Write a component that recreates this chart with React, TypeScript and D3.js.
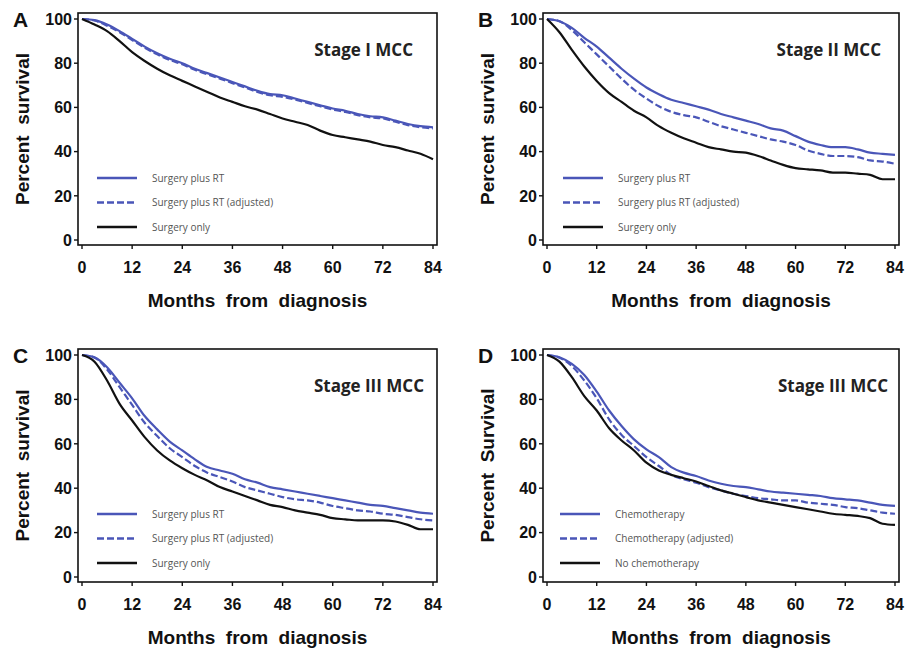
import React from "react";
import * as d3 from "d3";

const months = [0, 3, 6, 9, 12, 15, 18, 21, 24, 27, 30, 33, 36, 39, 42, 45, 48, 51, 54, 57, 60, 63, 66, 69, 72, 75, 78, 81, 84];
const xTicks = [0, 12, 24, 36, 48, 60, 72, 84];
const yTicks = [0, 20, 40, 60, 80, 100];

// Stage I
const stage1Rt = [100, 99.5, 97.5, 94.5, 91, 87.5, 84.5, 82, 80, 77.5, 75.5, 73.5, 71.5, 69.5, 67.5, 66, 65.5, 64, 62.5, 61, 59.5, 58.5, 57, 56, 55.5, 54, 52.5, 51.5, 51];
const stage1RtAdj = [100, 99.3, 97, 94, 90.5, 87, 84, 81.5, 79.5, 77, 75, 73, 71, 69, 67, 65.5, 64.8, 63.5, 62, 60.5, 59, 58, 56.5, 55.5, 55, 53.5, 52, 51, 50.5];
const stage1Surg = [100, 97.5, 94.5, 90, 85, 81, 77.5, 74.5, 72, 69.5, 67, 64.5, 62.5, 60.5, 59, 57, 55, 53.5, 52, 49.5, 47.5, 46.5, 45.5, 44.5, 43, 42, 40.5, 39, 36.5];

// Stage II
const stage2Rt = [100, 99, 96, 91.5, 87.5, 82.5, 77.5, 73, 69, 66, 63.5, 62, 60.5, 59, 57, 55.5, 54, 52.5, 50.5, 49.5, 47, 44.5, 43, 42, 42, 41, 39.5, 39, 38.5];
const stage2RtAdj = [100, 99, 95, 89.5, 84, 78.5, 73, 68, 64, 60.5, 58, 56.5, 55.5, 53.5, 51.5, 50, 48.5, 47, 45.5, 44.5, 43, 40.5, 39, 38, 38, 37.5, 36, 35.5, 34.5];
const stage2Surg = [100, 94, 86, 78.5, 72, 66.5, 62.5, 58.5, 55.5, 51.5, 48.5, 46, 44, 42, 41, 40, 39.5, 38, 36, 34, 32.5, 32, 31.5, 30.5, 30.5, 30, 29.5, 27.5, 27.5];

// Stage III, radiotherapy
const stage3Rt = [100, 99, 94.5, 87.5, 80.5, 72.5, 66.5, 61, 57, 53, 49.5, 48, 46.5, 44, 42.5, 40.5, 39.5, 38.5, 37.5, 36.5, 35.5, 34.5, 33.5, 32.5, 32, 31, 30, 29, 28.5];
const stage3RtAdj = [100, 98.8, 93.5, 85.5, 77.5, 69.5, 63.5, 58, 54, 50, 47, 45, 43, 40.5, 39, 37.5, 36, 35, 34.5, 33.5, 32, 31, 30, 29.5, 28.5, 28, 27, 26, 25.5];
const stage3Surg = [100, 97, 88.5, 78, 70.5, 63, 57, 52.5, 49, 46, 43.5, 40.5, 38.5, 36.5, 34.5, 32.5, 31.5, 30, 29, 28, 26.5, 26, 25.5, 25.5, 25.5, 25, 23.5, 21.5, 21.5];

// Stage III, chemotherapy
const stage3Chemo = [100, 99, 96, 91, 83.5, 75, 68, 62, 57.5, 54, 49.5, 47, 45.5, 43.5, 42, 41, 40.5, 39.5, 38.5, 38, 37.5, 37, 36.5, 35.5, 35, 34.5, 33.5, 32.5, 32];
const stage3ChemoAdj = [100, 98.8, 95, 88.5, 80.5, 71, 64, 59, 54, 50, 46, 44, 42.5, 40.5, 39, 37.5, 36.5, 35.5, 35, 34.5, 34.5, 33.5, 33, 32.5, 31.5, 31, 30, 29, 28.5];
const stage3NoChemo = [100, 97, 90, 81.5, 75, 67, 61.5, 57, 51.5, 48, 46, 44.5, 43, 41, 39, 37.5, 36, 34.5, 33.5, 32.5, 31.5, 30.5, 29.5, 28.5, 28, 27.5, 26.5, 24, 23.5];

const rtLabels = ["Surgery plus RT", "Surgery plus RT (adjusted)", "Surgery only"];
const chemoLabels = ["Chemotherapy", "Chemotherapy (adjusted)", "No chemotherapy"];

const BLUE = "#4a56b8";
const seriesStyles = [
  { color: BLUE, dash: null },
  { color: BLUE, dash: "7,3" },
  { color: "#111", dash: null },
];

const panels = [
  { letter: "A", title: "Stage I MCC", titleX: 413, yTitle: "Percent  survival", fx0: 78, fx1: 437, fy0: 13, fy1: 245, lx: 19, labels: rtLabels, series: [stage1Rt, stage1RtAdj, stage1Surg] },
  { letter: "B", title: "Stage II MCC", titleX: 881, yTitle: "Percent  survival", fx0: 543, fx1: 899, fy0: 13, fy1: 245, lx: 20, labels: rtLabels, series: [stage2Rt, stage2RtAdj, stage2Surg] },
  { letter: "C", title: "Stage III MCC", titleX: 424, yTitle: "Percent  survival", fx0: 78, fx1: 437, fy0: 349, fy1: 582, lx: 19, labels: rtLabels, series: [stage3Rt, stage3RtAdj, stage3Surg] },
  { letter: "D", title: "Stage III MCC", titleX: 888, yTitle: "Percent  Survival", fx0: 543, fx1: 899, fy0: 349, fy1: 582, lx: 17, labels: chemoLabels, series: [stage3Chemo, stage3ChemoAdj, stage3NoChemo] },
];

const AXIS_FONT = "'Liberation Sans', Arial, sans-serif";
const NOTE_FONT = "'Open Sans', 'Noto Sans', sans-serif";

function Panel({ p }) {
  const x = d3.scaleLinear().domain([0, 84]).range([p.fx0 + 4, p.fx1 - 4]);
  const y = d3.scaleLinear().domain([0, 100]).range([p.fy1 - 5, p.fy0 + 6]);
  const line = d3
    .line()
    .x((d, i) => x(months[i]))
    .y((d) => y(d))
    .curve(d3.curveMonotoneX);
  const midX = (p.fx0 + p.fx1) / 2;
  const midY = (p.fy0 + p.fy1) / 2;

  return (
    <g>
      {/* series */}
      {p.series.map((s, i) => (
        <path
          key={i}
          d={line(s)}
          fill="none"
          stroke={seriesStyles[i].color}
          strokeWidth={2.2}
          strokeDasharray={seriesStyles[i].dash || undefined}
        />
      ))}

      {/* frame */}
      <rect x={p.fx0} y={p.fy0} width={p.fx1 - p.fx0} height={p.fy1 - p.fy0} fill="none" stroke="#111" strokeWidth={1.6} />

      {/* y axis */}
      {yTicks.map((t) => (
        <g key={"y" + t}>
          <line x1={p.fx0 - 4} x2={p.fx0} y1={y(t)} y2={y(t)} stroke="#111" strokeWidth={1.4} />
          <text x={p.fx0 - 6} y={y(t)} dy="0.36em" textAnchor="end" fontFamily={AXIS_FONT} fontWeight="bold" fontSize={16} fill="#111">
            {t}
          </text>
        </g>
      ))}

      {/* x axis */}
      {xTicks.map((t) => (
        <g key={"x" + t}>
          <line x1={x(t)} x2={x(t)} y1={p.fy1} y2={p.fy1 + 4} stroke="#111" strokeWidth={1.4} />
          <text x={x(t)} y={p.fy1 + 28} textAnchor="middle" fontFamily={AXIS_FONT} fontWeight="bold" fontSize={16} fill="#111">
            {t}
          </text>
        </g>
      ))}

      <text x={midX} y={p.fy1 + 62} textAnchor="middle" fontFamily={AXIS_FONT} fontWeight="bold" fontSize={19} fill="#111" style={{ whiteSpace: "pre" }}>
        {"Months  from  diagnosis"}
      </text>
      <text
        transform={`translate(${p.fx0 - 49},${midY}) rotate(-90)`}
        textAnchor="middle"
        fontFamily={AXIS_FONT}
        fontWeight="bold"
        fontSize={19}
        fill="#111"
        style={{ whiteSpace: "pre" }}
      >
        {p.yTitle}
      </text>

      <text x={p.fx0 - 65} y={p.fy0 + 14} fontFamily={AXIS_FONT} fontWeight="bold" fontSize={21} fill="#111">
        {p.letter}
      </text>

      <text x={p.titleX} y={p.fy0 + 43} textAnchor="end" fontFamily={NOTE_FONT} fontWeight="bold" fontSize={17} fill="#222">
        {p.title}
      </text>

      {/* legend */}
      {p.labels.map((lab, i) => {
        const ly = p.fy0 + 165 + i * 24.5;
        return (
          <g key={lab}>
            <line
              x1={p.fx0 + p.lx}
              x2={p.fx0 + p.lx + 40}
              y1={ly}
              y2={ly}
              stroke={seriesStyles[i].color}
              strokeWidth={2.5}
              strokeDasharray={seriesStyles[i].dash || undefined}
            />
            <text x={p.fx0 + p.lx + 55} y={ly} dy="0.35em" fontFamily={NOTE_FONT} fontSize={10} fill="#555">
              {lab}
            </text>
          </g>
        );
      })}
    </g>
  );
}

export default function App() {
  return (
    <svg width={906} height={650} style={{ position: "absolute", left: 0, top: 0, background: "#fff" }}>
      <rect width={906} height={650} fill="#fff" />
      {panels.map((p) => (
        <Panel key={p.letter} p={p} />
      ))}
    </svg>
  );
}
